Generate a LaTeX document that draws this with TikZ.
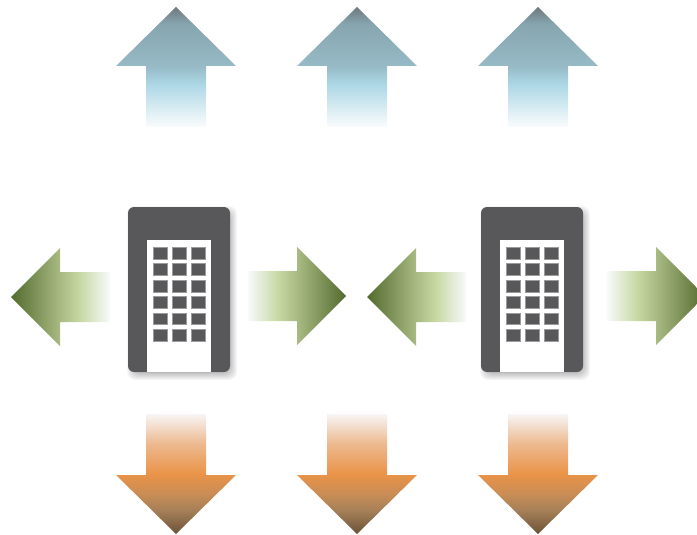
\documentclass[tikz,border=0pt]{standalone}
\usepackage{tikz}
\definecolor{buildingGray}{RGB}{88, 88, 90}
\definecolor{skyA}{RGB}{112, 122, 127}
\definecolor{skyB}{RGB}{134, 165, 175}
\definecolor{skyC}{RGB}{150, 186, 198}
\definecolor{skyD}{RGB}{174, 216, 230}
\definecolor{skyE}{RGB}{250, 252, 253}
\definecolor{leafA}{RGB}{83, 106, 46}
\definecolor{leafB}{RGB}{168, 186, 130}
\definecolor{leafC}{RGB}{200, 217, 165}
\definecolor{leafE}{RGB}{248, 250, 252}
\definecolor{amberA}{RGB}{107, 82, 56}
\definecolor{amberB}{RGB}{166, 128, 88}
\definecolor{amberC}{RGB}{201, 141, 85}
\definecolor{amberD}{RGB}{234, 147, 72}
\definecolor{amberE}{RGB}{237, 185, 143}
\definecolor{amberF}{RGB}{247, 245, 245}
\pgfdeclareverticalshading{upFade}{100bp}{color(0bp)=(skyE); color(25bp)=(skyE); color(42.5bp)=(skyD); color(50.4bp)=(skyC); color(68bp)=(skyB); color(75bp)=(skyA); color(100bp)=(skyA)}
\pgfdeclareverticalshading{downFade}{100bp}{color(0bp)=(amberA); color(25bp)=(amberA); color(35bp)=(amberB); color(41.7bp)=(amberC); color(50bp)=(amberD); color(62.5bp)=(amberE); color(75bp)=(amberF); color(100bp)=(amberF)}
\pgfdeclarehorizontalshading{leftFade}{100bp}{color(0bp)=(leafA); color(25bp)=(leafA); color(49.7bp)=(leafB); color(60bp)=(leafC); color(75bp)=(leafE); color(100bp)=(leafE)}
\pgfdeclarehorizontalshading{rightFade}{100bp}{color(0bp)=(leafE); color(25bp)=(leafE); color(40bp)=(leafC); color(50.3bp)=(leafB); color(75bp)=(leafA); color(100bp)=(leafA)}
\tikzset{
  upArrow/.style={shading=upFade},
  downArrow/.style={shading=downFade},
  leftArrow/.style={shading=leftFade},
  rightArrow/.style={shading=rightFade},
  tower/.style={fill=buildingGray, rounded corners=6pt},
  towerGlow/.style={fill=black, opacity=0.035, rounded corners=8pt},
  panel/.style={fill=white},
  pane/.style={fill=buildingGray, draw=buildingGray!60, line width=0.4pt}
}

\begin{document}
\begin{tikzpicture}[x=1pt,y=-1pt]
  \useasboundingbox (0,0) rectangle (697,535);
  \clip (0,0) rectangle (697,535);

  % 1. Arrows going up
  \shade[upArrow] (176,7) -- (236,66) -- (206,66) -- (206,127) -- (146,127) -- (146,66) -- (116,66) -- cycle;
  \begin{scope}[xshift=181pt]
  \shade[upArrow] (176,7) -- (236,66) -- (206,66) -- (206,127) -- (146,127) -- (146,66) -- (116,66) -- cycle;
  \end{scope}
  \begin{scope}[xshift=362pt]
  \shade[upArrow] (176,7) -- (236,66) -- (206,66) -- (206,127) -- (146,127) -- (146,66) -- (116,66) -- cycle;
  \end{scope}

  % 2. Arrows going down
  \shade[downArrow] (176,534) -- (236,475) -- (206,475) -- (206,414) -- (146,414) -- (146,475) -- (116,475) -- cycle;
  \begin{scope}[xshift=181pt]
  \shade[downArrow] (176,534) -- (236,475) -- (206,475) -- (206,414) -- (146,414) -- (146,475) -- (116,475) -- cycle;
  \end{scope}
  \begin{scope}[xshift=362pt]
  \shade[downArrow] (176,534) -- (236,475) -- (206,475) -- (206,414) -- (146,414) -- (146,475) -- (116,475) -- cycle;
  \end{scope}

  % 3. Arrows going left
  \shade[leftArrow] (11,297) -- (60,248) -- (60,272) -- (110,272) -- (110,322) -- (60,322) -- (60,346) -- cycle;
  \begin{scope}[xshift=356pt]
  \shade[leftArrow] (11,297) -- (60,248) -- (60,272) -- (110,272) -- (110,322) -- (60,322) -- (60,346) -- cycle;
  \end{scope}

  % 4. Arrows going right
  \shade[rightArrow] (346,296) -- (297,247) -- (297,271) -- (248,271) -- (248,321) -- (297,321) -- (297,345) -- cycle;
  \begin{scope}[xshift=359pt]
  \shade[rightArrow] (346,296) -- (297,247) -- (297,271) -- (248,271) -- (248,321) -- (297,321) -- (297,345) -- cycle;
  \end{scope}

  % 5. Left building
  \foreach \g in {0,1,...,6}
    \fill[towerGlow] (127+\g,206+\g) rectangle (237-\g,380-\g);
  \fill[tower] (128,207) rectangle (230,372);
  \fill[panel] (147,240) rectangle (211,372);
  \foreach \wx in {152.7,172,191.3}
    \foreach \wy/\wh in {247/12,263/12,280/12,296/12,313/11.5,329/12}
      \filldraw[pane] (\wx,\wy) rectangle ++(14,\wh);

  % 6. Right building
  \begin{scope}[xshift=353pt]
  \foreach \g in {0,1,...,6}
    \fill[towerGlow] (127+\g,206+\g) rectangle (237-\g,380-\g);
  \fill[tower] (128,207) rectangle (230,372);
  \fill[panel] (147,240) rectangle (211,372);
  \foreach \wx in {152.7,172,191.3}
    \foreach \wy/\wh in {247/12,263/12,280/12,296/12,313/11.5,329/12}
      \filldraw[pane] (\wx,\wy) rectangle ++(14,\wh);
  \end{scope}
\end{tikzpicture}
\end{document}
